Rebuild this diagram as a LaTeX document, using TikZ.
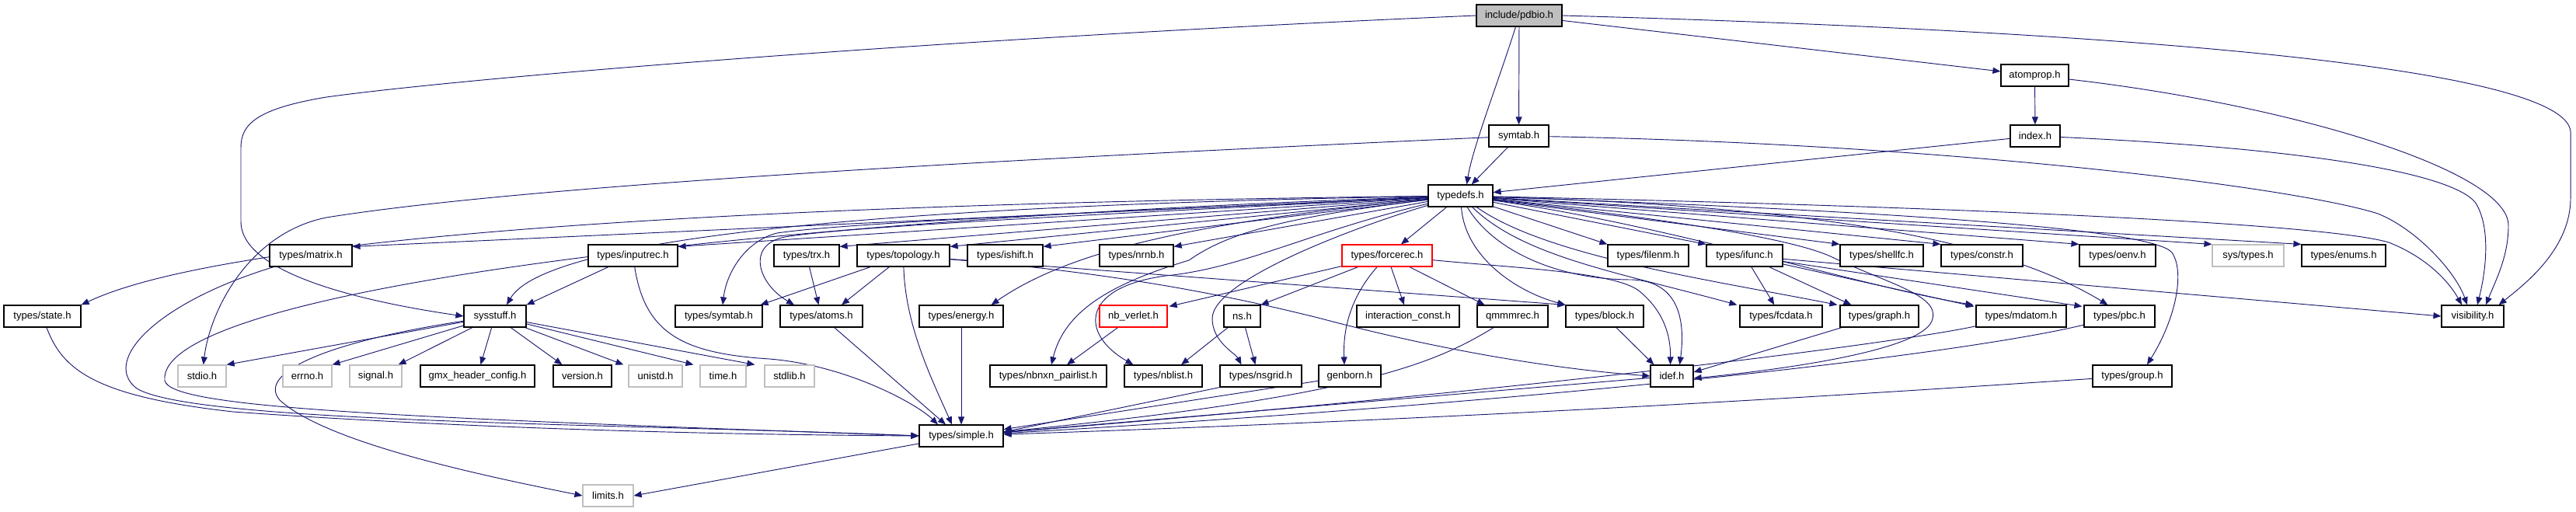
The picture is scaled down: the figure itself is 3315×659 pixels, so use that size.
\documentclass[tikz,border=0pt]{standalone}
\usepackage{fontspec}
\setmainfont{Liberation Sans}
\usetikzlibrary{arrows.meta,calc,backgrounds}
\definecolor{edgec}{HTML}{191970}
\definecolor{gseventyfive}{HTML}{BFBFBF}
\newcommand\mkbox[7]{\node[#6, minimum width={(#4-#2)*0.75pt}, minimum height={(#5-#3)*0.75pt}] (#1) at ({(#2+#4)/2},{(#3+#5)/2}) {#7};}
\tikzset{
  basebox/.style={rectangle, inner sep=0pt, fill=white, line width=0.9pt, font=\fontsize{9.8pt}{11pt}\selectfont, text=black},
  nb/.style={basebox, draw=black},
  ng/.style={basebox, draw=gseventyfive},
  nr/.style={basebox, draw=red},
  nroot/.style={basebox, draw=black, fill=gseventyfive},
  edg/.style={draw=edgec, line width=0.7pt, -{Triangle[length=7.5pt,width=6pt]}, edgec}
}
\begin{document}
\begin{tikzpicture}[x=0.75pt,y=-0.75pt]
\useasboundingbox (0,0) rectangle (3315,659);
% row 0-3
\mkbox{pdbio}{1900}{6}{2010}{34}{nroot}{include/pdbio.h}
\mkbox{atomprop}{2575}{83}{2662}{111}{nb}{atomprop.h}
\mkbox{index}{2587}{161}{2651}{189}{nb}{index.h}
\mkbox{symtab}{1916}{161}{1993}{189}{nb}{symtab.h}
\mkbox{typedefs}{1838}{238}{1921}{266}{nb}{typedefs.h}
% row 5
\mkbox{matrix}{347}{315}{453}{343}{nb}{types/matrix.h}
\mkbox{inputrec}{757}{315}{872}{343}{nb}{types/inputrec.h}
\mkbox{trx}{996}{315}{1080}{343}{nb}{types/trx.h}
\mkbox{topology}{1103}{315}{1222}{343}{nb}{types/topology.h}
\mkbox{ishift}{1245}{315}{1342}{343}{nb}{types/ishift.h}
\mkbox{nrnb}{1415}{315}{1510}{343}{nb}{types/nrnb.h}
\mkbox{forcerec}{1727}{315}{1843}{343}{nr}{types/forcerec.h}
\mkbox{filenm}{2069}{315}{2173}{343}{nb}{types/filenm.h}
\mkbox{ifunc}{2196}{315}{2294}{343}{nb}{types/ifunc.h}
\mkbox{shellfc}{2368}{315}{2475}{343}{nb}{types/shellfc.h}
\mkbox{constr}{2498}{315}{2603}{343}{nb}{types/constr.h}
\mkbox{oenv}{2676}{315}{2774}{343}{nb}{types/oenv.h}
\mkbox{systypes}{2847}{315}{2939}{343}{ng}{sys/types.h}
\mkbox{enums}{2962}{315}{3070}{343}{nb}{types/enums.h}
% row 6
\mkbox{state}{5}{393}{104}{421}{nb}{types/state.h}
\mkbox{sysstuff}{597}{393}{677}{421}{nb}{sysstuff.h}
\mkbox{tsymtab}{869}{393}{981}{421}{nb}{types/symtab.h}
\mkbox{atoms}{1004}{393}{1110}{421}{nb}{types/atoms.h}
\mkbox{energy}{1183}{393}{1291}{421}{nb}{types/energy.h}
\mkbox{nbverlet}{1415}{393}{1502}{421}{nr}{nb\_verlet.h}
\mkbox{ns}{1575}{393}{1622}{421}{nb}{ns.h}
\mkbox{iconst}{1746}{393}{1878}{421}{nb}{interaction\_const.h}
\mkbox{qmmmrec}{1901}{393}{1992}{421}{nb}{qmmmrec.h}
\mkbox{block}{2015}{393}{2115}{421}{nb}{types/block.h}
\mkbox{fcdata}{2239}{393}{2345}{421}{nb}{types/fcdata.h}
\mkbox{graph}{2368}{393}{2469}{421}{nb}{types/graph.h}
\mkbox{mdatom}{2543}{393}{2659}{421}{nb}{types/mdatom.h}
\mkbox{pbc}{2682}{393}{2773}{421}{nb}{types/pbc.h}
\mkbox{visibility}{3142}{393}{3222}{421}{nb}{visibility.h}
% row 7
\mkbox{stdio}{229}{470}{291}{498}{ng}{stdio.h}
\mkbox{errno}{364}{470}{427}{498}{ng}{errno.h}
\mkbox{signal}{450}{470}{517}{498}{ng}{signal.h}
\mkbox{gmxhc}{541}{470}{688}{498}{nb}{gmx\_header\_config.h}
\mkbox{version}{712}{470}{787}{498}{nb}{version.h}
\mkbox{unistd}{809}{470}{878}{498}{ng}{unistd.h}
\mkbox{time}{901}{470}{960}{498}{ng}{time.h}
\mkbox{stdlib}{984}{470}{1048}{498}{ng}{stdlib.h}
\mkbox{nbnxn}{1274}{470}{1424}{498}{nb}{types/nbnxn\_pairlist.h}
\mkbox{nblist}{1447}{470}{1547}{498}{nb}{types/nblist.h}
\mkbox{nsgrid}{1570}{470}{1675}{498}{nb}{types/nsgrid.h}
\mkbox{genborn}{1697}{470}{1777}{498}{nb}{genborn.h}
\mkbox{idef}{2124}{470}{2179}{498}{nb}{idef.h}
\mkbox{group}{2693}{470}{2795}{498}{nb}{types/group.h}
% row 8-9
\mkbox{simple}{1183}{547}{1291}{575}{nb}{types/simple.h}
\mkbox{limits}{750}{624}{815}{652}{ng}{limits.h}

\begin{scope}[on background layer]
% pdbio
\draw[edg] (pdbio.west) .. controls (1200,50) and (600,100) .. (420,125) .. controls (330,140) and (310,160) .. (310,190) -- (310,285) .. controls (310,355) and (480,390) .. (sysstuff.west);
\draw[edg] (pdbio) .. controls (1930,100) and (1895,190) .. ($(typedefs.north)+(8,0)$);
\draw[edg] (pdbio) -- (symtab);
\draw[edg] (pdbio) -- (atomprop);
\draw[edg] (pdbio.east) .. controls (2900,45) and (3305,100) .. (3308,170) -- (3308,255) .. controls (3308,320) and (3250,365) .. ($(visibility.north east)+(-7,0)$);
% atomprop, index, symtab
\draw[edg] (atomprop) -- (index);
\draw[edg] (atomprop) .. controls (2950,135) and (3228,220) .. (3228,290) .. controls (3228,330) and (3212,360) .. ($(visibility.north)+(17,0)$);
\draw[edg] (index) -- (typedefs);
\draw[edg] (index) .. controls (2950,190) and (3150,220) .. (3185,260) .. controls (3205,290) and (3200,345) .. ($(visibility.north)+(6,0)$);
\draw[edg] (symtab) -- (typedefs);
\draw[edg] (symtab) .. controls (2500,185) and (2950,240) .. (3060,275) .. controls (3110,295) and (3160,350) .. ($(visibility.north)+(-7,0)$);
\draw[edg] (symtab) .. controls (1400,200) and (700,235) .. (420,280) .. controls (320,300) and (270,400) .. (stdio);
% typedefs left
\draw[edg] (typedefs) .. controls (1000,262) and (300,300) .. (state.north east);
\draw[edg] (typedefs) -- ($(matrix.north east)+(0,3)$);
\draw[edg] (typedefs) .. controls (1100,265) and (700,310) .. ($(sysstuff.north)+(15,0)$);
\draw[edg] (typedefs) -- ($(inputrec.north east)+(0,3)$);
\draw[edg] (typedefs) .. controls (1500,270) and (1100,285) .. (1000,300) .. controls (960,310) and (935,350) .. ($(tsymtab.north)+(5,0)$);
\draw[edg] (typedefs) .. controls (1500,272) and (1100,290) .. (1010,305) .. controls (960,315) and (975,365) .. ($(atoms.north)+(-35,0)$);
\draw[edg] (typedefs) -- ($(trx.north east)+(0,3)$);
\draw[edg] (typedefs) -- ($(topology.north east)+(0,3)$);
\draw[edg] (typedefs) -- ($(ishift.north east)+(0,3)$);
\draw[edg] (typedefs) -- ($(nrnb.north east)+(0,3)$);
\draw[edg] (typedefs) .. controls (1550,285) and (1380,320) .. ($(energy.north east)+(-16,0)$);
\draw[edg] (typedefs) .. controls (1650,280) and (1580,300) .. (1530,335) .. controls (1430,365) and (1370,400) .. ($(nbnxn.north)+(4,0)$);
\draw[edg] (typedefs) .. controls (1680,300) and (1600,345) .. (1500,355) .. controls (1390,370) and (1390,430) .. ($(nblist.north west)+(12,0)$);
\draw[edg] (typedefs) .. controls (1750,290) and (1560,360) .. (1560,410) .. controls (1560,440) and (1590,455) .. ($(nsgrid.north)+(-25,0)$);
\draw[edg] (typedefs) .. controls (900,285) and (200,380) .. (212,490) .. controls (220,525) and (500,537) .. (simple.west);
\draw[edg] (typedefs) -- (forcerec);
% typedefs right
\draw[edg] (typedefs) .. controls (1885,330) and (1950,375) .. (block.north west);
\draw[edg] (typedefs) .. controls (1920,320) and (2000,360) .. (2100,360) .. controls (2165,362) and (2168,420) .. ($(idef.north)+(10,0)$);
\draw[edg] (typedefs) -- (filenm.north west);
\draw[edg] (typedefs) -- (ifunc.north west);
\draw[edg] (typedefs) -- (shellfc.north west);
\draw[edg] (typedefs) -- (constr.north west);
\draw[edg] (typedefs) -- (oenv.north west);
\draw[edg] (typedefs) -- (systypes.north west);
\draw[edg] (typedefs) -- (enums.north west);
\draw[edg] (typedefs) .. controls (2600,268) and (3000,290) .. (3074,312) .. controls (3120,330) and (3150,360) .. ($(visibility.north)+(-14,0)$);
\draw[edg] (typedefs) .. controls (2300,265) and (2560,300) .. ($(pbc.north)+(-15,0)$);
\draw[edg] (typedefs) .. controls (2450,272) and (2770,295) .. (2795,325) .. controls (2812,350) and (2800,410) .. ($(group.north)+(19,0)$);
\draw[edg] (typedefs) .. controls (1960,330) and (2080,350) .. ($(fcdata.north west)+(-3,0)$);
\draw[edg] (typedefs) .. controls (1990,330) and (2200,360) .. ($(graph.north west)+(-3,0)$);
\draw[edg] (typedefs) .. controls (2150,290) and (2400,370) .. ($(mdatom.north west)+(-3,0)$);
\draw[edg] (typedefs) .. controls (2200,288) and (2320,312) .. (2360,332) .. controls (2430,365) and (2495,380) .. (2487,410) .. controls (2480,450) and (2300,475) .. ($(idef.east)+(0,3)$);
% ifunc
\draw[edg] (ifunc) -- (fcdata);
\draw[edg] (ifunc) -- ($(graph.north west)+(15,0)$);
\draw[edg] (ifunc) -- ($(mdatom.north west)+(-2,2)$);
\draw[edg] (ifunc) -- ($(pbc.north west)+(-2,2)$);
\draw[edg] (ifunc) -- (visibility.west);
% idef sources
\draw[edg] (graph) -- ($(idef.east)+(0,-5)$);
\draw[edg] (block) -- ($(idef.north west)+(5,0)$);
\draw[edg] (topology) .. controls (1450,352) and (1600,385) .. (1700,410) .. controls (1850,450) and (2000,475) .. (idef.west);
\draw[edg] (topology) -- (block.north west);
\draw[edg] (forcerec) .. controls (1950,345) and (2080,350) .. (2110,375) .. controls (2140,400) and (2150,430) .. ($(idef.north)+(-2,0)$);
% topology, trx, inputrec
\draw[edg] (topology) -- ($(tsymtab.north east)+(-3,0)$);
\draw[edg] (topology) -- ($(atoms.north)+(26,0)$);
\draw[edg] (topology) .. controls (1165,420) and (1200,490) .. ($(simple.north)+(-12,0)$);
\draw[edg] (trx) -- (atoms);
\draw[edg] (inputrec) -- (sysstuff.north east);
\draw[edg] (inputrec) .. controls (830,430) and (880,455) .. (990,462) .. controls (1090,470) and (1180,520) .. ($(simple.north)+(-30,0)$);
\draw[edg] (atoms) -- ($(simple.north)+(-20,0)$);
\draw[edg] (energy) -- (simple);
% forcerec
\draw[edg] (forcerec) -- ($(nbverlet.north east)+(2,2)$);
\draw[edg] (forcerec) -- (ns.north east);
\draw[edg] (forcerec) .. controls (1740,380) and (1728,420) .. ($(genborn.north)+(-7,0)$);
\draw[edg] (forcerec) -- (iconst);
\draw[edg] (forcerec) -- ($(qmmmrec.north)+(-36,0)$);
\draw[edg] (nbverlet) -- ($(nbnxn.north)+(24,0)$);
\draw[edg] (ns) -- ($(nblist.north)+(23,0)$);
\draw[edg] (ns) -- ($(nsgrid.north)+(-7,0)$);
% into simple
\draw[edg] (matrix) .. controls (200,390) and (130,465) .. (176,500) .. controls (250,545) and (800,545) .. (simple.west);
\draw[edg] (state) .. controls (80,475) and (120,510) .. (300,530) .. controls (650,555) and (1000,560) .. (simple.west);
\draw[edg] (nsgrid.south west) -- ($(simple.east)+(0,-5)$);
\draw[edg] (qmmmrec) .. controls (1850,465) and (1760,510) .. (simple);
\draw[edg] (genborn) -- (simple);
\draw[edg] (idef) -- (simple);
\draw[edg] (mdatom) .. controls (2450,440) and (2000,500) .. (simple);
\draw[edg] (pbc) .. controls (2550,450) and (2100,510) .. (simple);
\draw[edg] (group) .. controls (2500,500) and (2000,535) .. (simple);
% sysstuff
\draw[edg] (sysstuff) -- (stdio.north east);
\draw[edg] (sysstuff) -- (errno.north east);
\draw[edg] (sysstuff) -- ($(signal.north east)+(-5,0)$);
\draw[edg] (sysstuff) -- ($(gmxhc.north)+(4,0)$);
\draw[edg] (sysstuff) -- ($(version.north)+(-26,0)$);
\draw[edg] (sysstuff) -- ($(unistd.north west)+(-6,0)$);
\draw[edg] (sysstuff) -- ($(time.north west)+(-8,0)$);
\draw[edg] (sysstuff) -- ($(stdlib.north west)+(-12,0)$);
\draw[edg] (sysstuff) .. controls (420,440) and (330,480) .. (360,515) .. controls (420,570) and (620,612) .. (limits.west);
\draw[edg] (simple) -- (limits.east);
\end{scope}
\end{tikzpicture}
\end{document}
